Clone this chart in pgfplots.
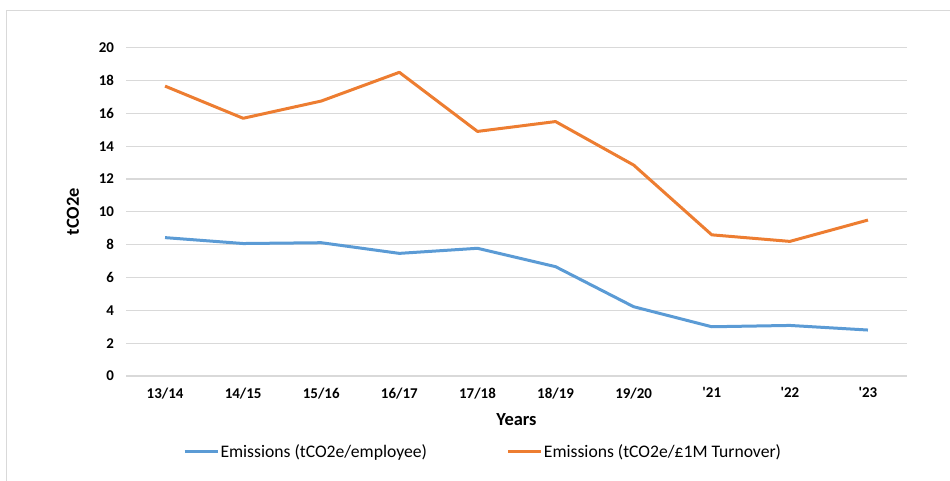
\documentclass[border=0pt]{standalone}
\usepackage{fontspec}
\setmainfont{Carlito}
\usepackage{pgfplots}
\pgfplotsset{compat=1.18}
\definecolor{serblue}{HTML}{5B9BD5}
\definecolor{serorange}{HTML}{ED7D31}
\definecolor{gridgray}{HTML}{D9D9D9}
\begin{document}
\begin{tikzpicture}
\path[use as bounding box] (0,0) rectangle (950bp,481bp);
\draw[gridgray, line width=1.3bp] (6.5bp,0bp) -- (6.5bp,470.5bp) -- (950bp,470.5bp);
\begin{axis}[
  at={(126bp,105bp)}, anchor=south west,
  scale only axis, width=781bp, height=328.3bp,
  xmin=-0.5, xmax=9.5, ymin=0, ymax=20,
  xtick={0,...,9},
  xticklabels={13/14,14/15,15/16,16/17,17/18,18/19,19/20,\textquotesingle21,\textquotesingle22,\textquotesingle23},
  ytick={0,2,...,20},
  /pgf/number format/assume math mode=true,
  axis line style={draw=none},
  major tick length=0pt,
  tick style={draw=none},
  ymajorgrids,
  grid style={gridgray, line width=1.3bp},
  tick label style={font=\fontsize{15}{17}\selectfont\bfseries},
  yticklabel style={xshift=-8.5bp},
  xticklabel style={yshift=-8bp},
  xlabel={Years},
  ylabel={tCO2e},
  label style={font=\fontsize{18.5}{20}\selectfont\bfseries},
  xlabel style={at={(axis description cs:0.5,-0.134)}, anchor=center},
  ylabel style={at={(axis description cs:-0.0679,0.5)}, anchor=center},
  legend columns=2,
  legend style={at={(axis description cs:0.073,-0.2306)}, anchor=west,
    draw=none, fill=none, inner sep=0pt, outer sep=0pt,
    font=\fontsize{17.7}{20}\selectfont,
    nodes={inner sep=1.5bp},
    /tikz/every even column/.append style={column sep=78bp}},
  legend image code/.code={\draw[#1, line width=3bp] (0bp,0bp) -- (33bp,0bp);},
  every axis plot/.append style={line width=3bp, line join=round, mark=none},
]
\addplot[serblue] coordinates {
  (0,8.43) (1,8.07) (2,8.12) (3,7.47) (4,7.78) (5,6.66) (6,4.22) (7,3.00) (8,3.08) (9,2.80)
};
\addlegendentry{Emissions (tCO2e/employee)}
\addplot[serorange] coordinates {
  (0,17.66) (1,15.70) (2,16.75) (3,18.50) (4,14.90) (5,15.50) (6,12.85) (7,8.60) (8,8.20) (9,9.50)
};
\addlegendentry{Emissions (tCO2e/£1M Turnover)}
\end{axis}
\end{tikzpicture}
\end{document}
